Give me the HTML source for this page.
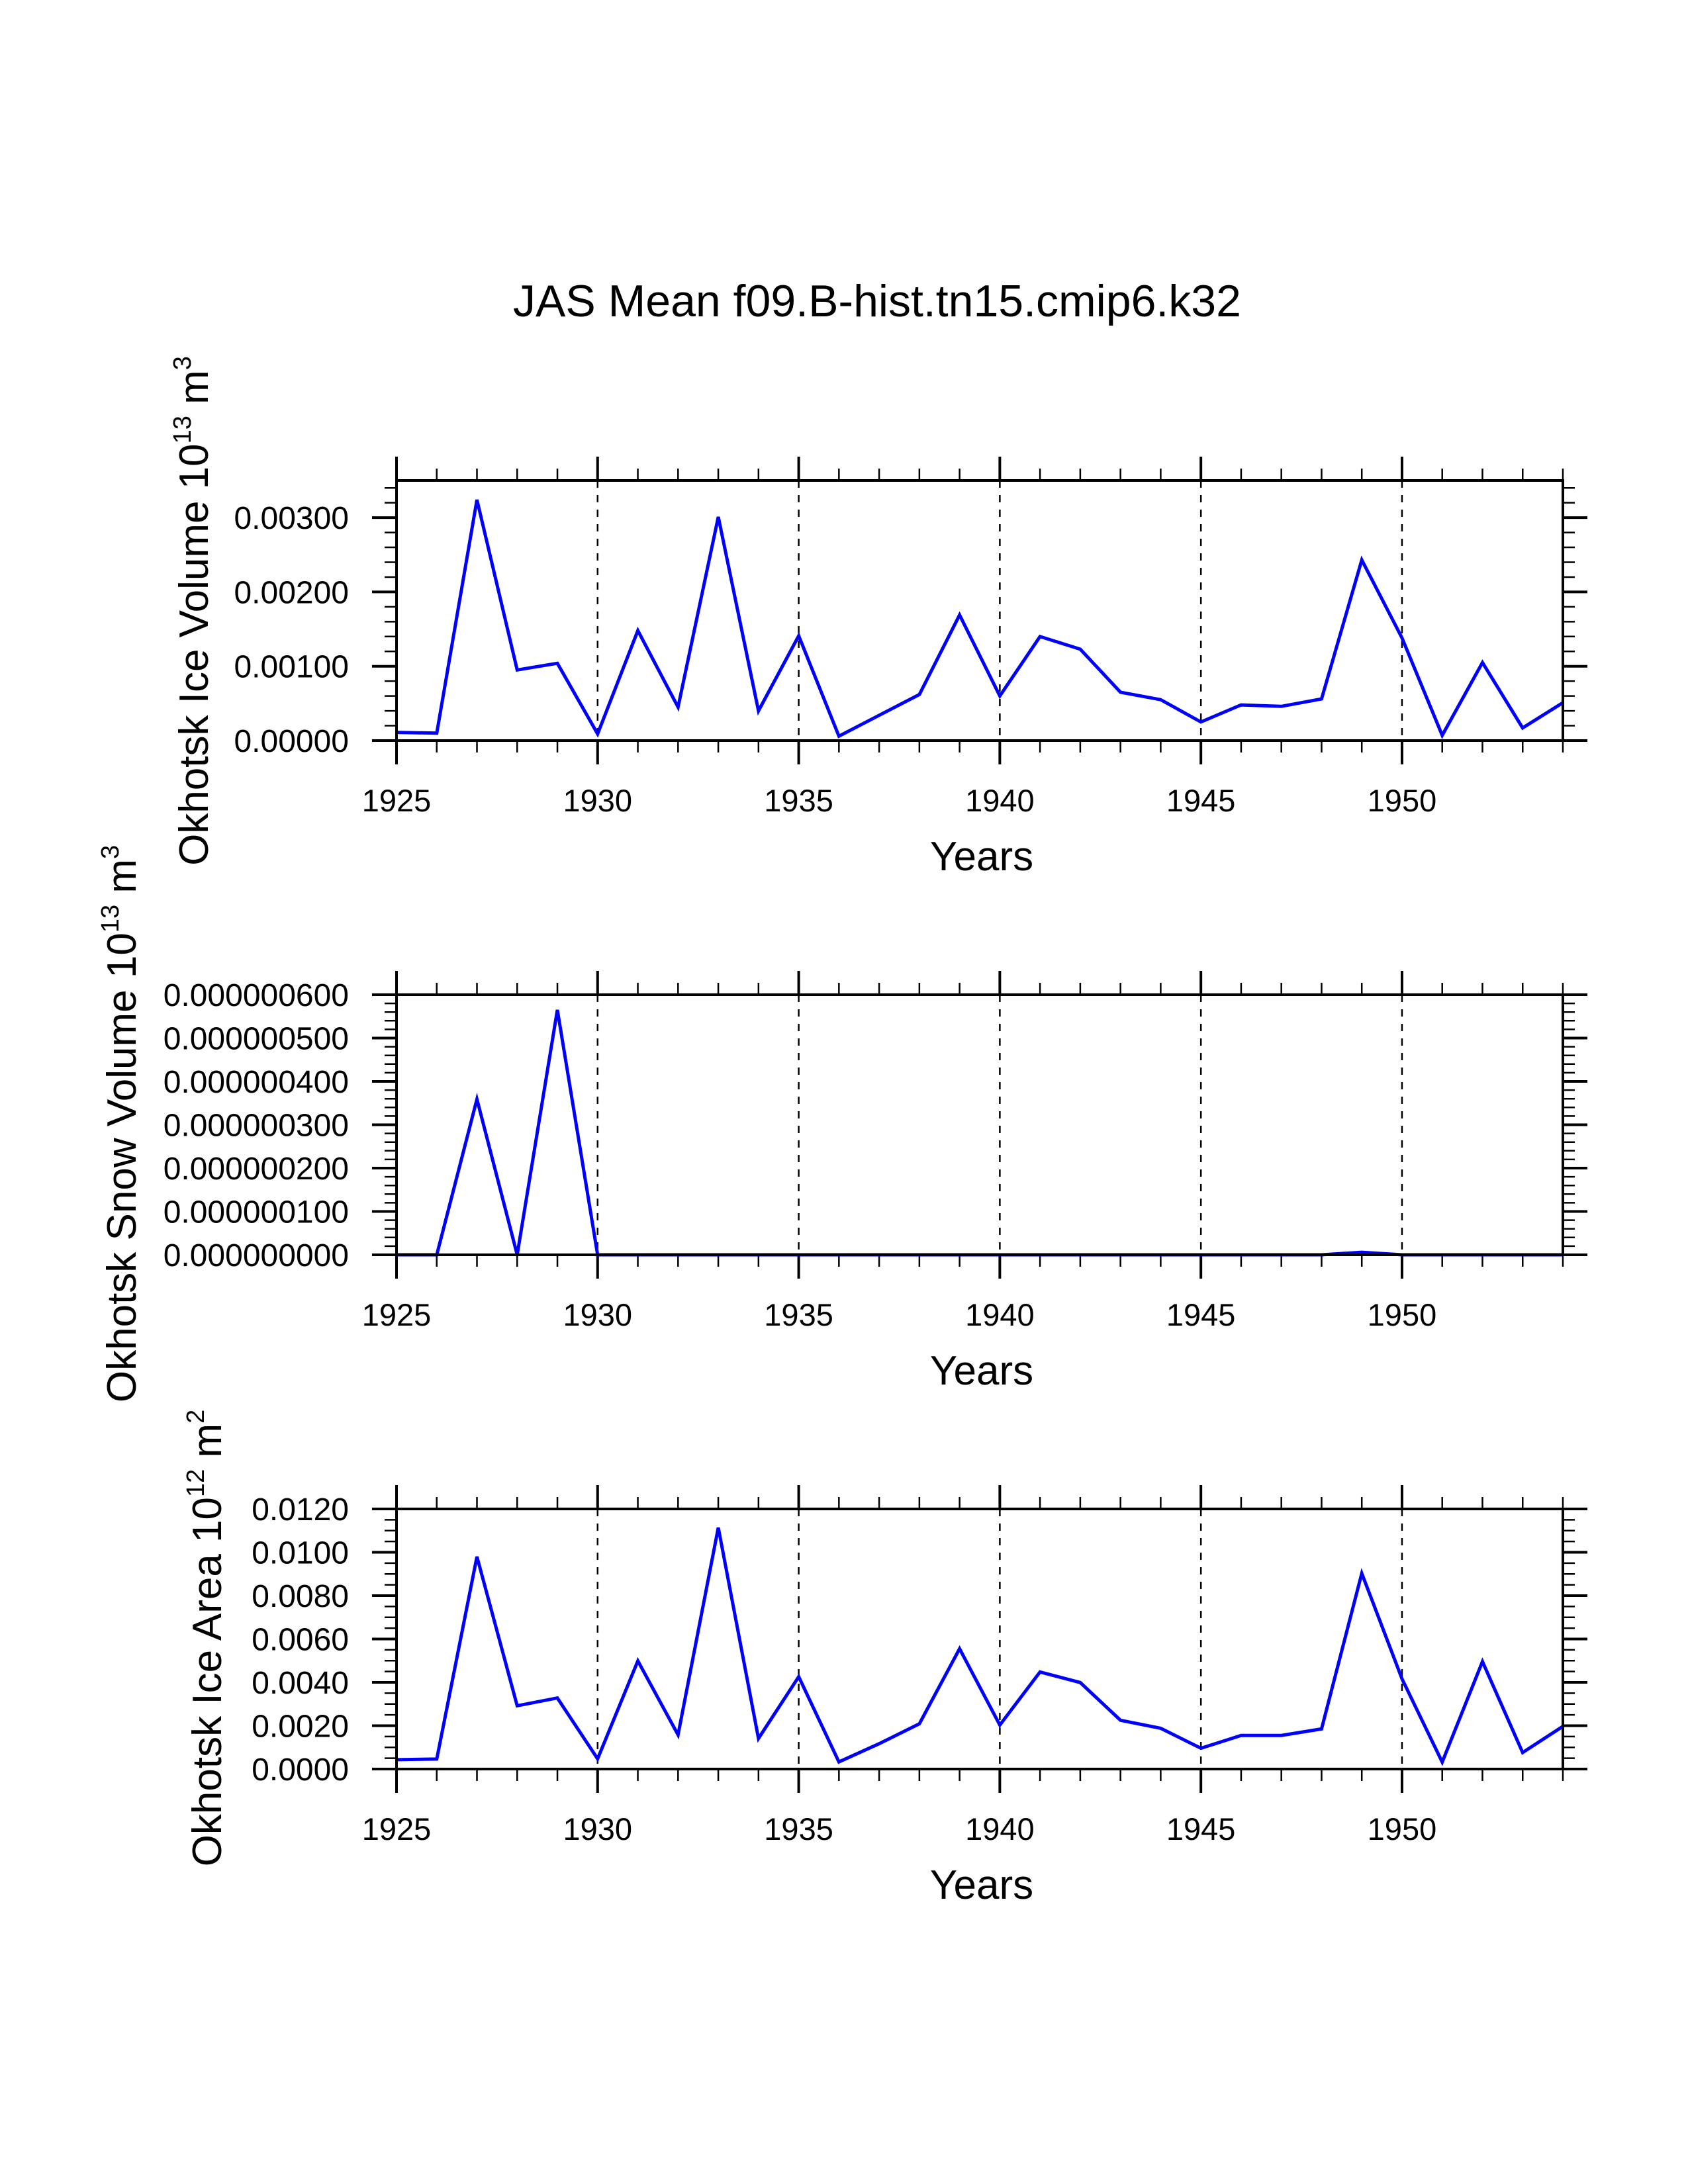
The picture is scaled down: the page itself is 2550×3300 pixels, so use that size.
<!DOCTYPE html>
<html><head><meta charset="utf-8"><style>html,body{margin:0;padding:0;background:#fff}svg{display:block}</style></head>
<body>
<svg id="chart" width="2550" height="3300" viewBox="0 0 2550 3300" xmlns="http://www.w3.org/2000/svg" font-family="'Liberation Sans', sans-serif">
<text x="1325" y="478" font-size="68" text-anchor="middle">JAS Mean f09.B-hist.tn15.cmip6.k32</text>
</svg>
<script>
const years = [1925,1926,1927,1928,1929,1930,1931,1932,1933,1934,1935,1936,1937,1938,1939,1940,1941,1942,1943,1944,1945,1946,1947,1948,1949,1950,1951,1952,1953,1954];
const iceVolume = [0.00011,0.00010,0.00324,0.00095,0.00104,0.00009,0.00148,0.00045,0.00301,0.00040,0.00141,0.00006,0.00034,0.00062,0.00169,0.00060,0.00140,0.00123,0.00065,0.00055,0.00025,0.00048,0.00046,0.00056,0.00243,0.00138,0.00007,0.00105,0.00017,0.00051];
const snowVolume = [0,0,3.59e-7,0,5.65e-7,0,0,0,0,0,0,0,0,0,0,0,0,0,0,0,0,0,0,0,0.06e-7,0,0,0,0,0];
const iceArea = [0.00043,0.00046,0.0098,0.00292,0.00328,0.00047,0.00499,0.00158,0.01114,0.00141,0.00426,0.00033,0.00117,0.00209,0.00555,0.00203,0.00448,0.00399,0.00225,0.00188,0.00096,0.00155,0.00155,0.00185,0.00903,0.00416,0.00032,0.00496,0.00076,0.00197];
const xTickLabels = ['1925','1930','1935','1940','1945','1950'];
const vol1Ticks = ['0.00000','0.00100','0.00200','0.00300'];
const snowTicks = ['0.000000000','0.000000100','0.000000200','0.000000300','0.000000400','0.000000500','0.000000600'];
const areaTicks = ['0.0000','0.0020','0.0040','0.0060','0.0080','0.0100','0.0120'];

const NS='http://www.w3.org/2000/svg';
const svg=document.getElementById('chart');
function mk(tag,attrs,parent){const e=document.createElementNS(NS,tag);for(const k in attrs)e.setAttribute(k,attrs[k]);(parent||svg).appendChild(e);return e;}
const X0=599,X1=2361,XMIN=1925,XMAX=1954;
function xs(v){return X0+(v-XMIN)/(XMAX-XMIN)*(X1-X0);}

function panel(cfg){
  const g=mk('g',{});
  
  
  const top=cfg.top,bot=cfg.top+393;
  const ys=v=>bot-(v-cfg.ymin)/(cfg.ymax-cfg.ymin)*(bot-top);
  for(let y=1930;y<=1950;y+=5){
    const l=mk('line',{x1:xs(y),x2:xs(y),y1:top,y2:bot,stroke:'#000','stroke-width':2.5,'stroke-dasharray':'11 11'},g);
    
    
  }
  for(let y=XMIN;y<=XMAX;y++){
    const major=(y%5===0);const len=major?36:18;const w=major?4:2.5;
    mk('line',{x1:xs(y),x2:xs(y),y1:top-len,y2:top,stroke:'#000','stroke-width':w},g);
    mk('line',{x1:xs(y),x2:xs(y),y1:bot,y2:bot+len,stroke:'#000','stroke-width':w},g);
  }
  const nMinor=cfg.nMinor;
  for(let i=0;i<cfg.ylabels.length;i++){
    const v=cfg.ymin+i*cfg.ystep;
    for(let j=0;j<nMinor;j++){
      const vv=v+j*cfg.ystep/nMinor;
      if(vv>cfg.ymax+1e-15)break;
      const len=j===0?37:18,w=j===0?4:2.5;
      mk('line',{x1:X0-len,x2:X0,y1:ys(vv),y2:ys(vv),stroke:'#000','stroke-width':w},g);
      mk('line',{x1:X1,x2:X1+len,y1:ys(vv),y2:ys(vv),stroke:'#000','stroke-width':w},g);
    }
    const t=mk('text',{x:527,y:ys(v)+17,'font-size':48,'text-anchor':'end'},g);
    t.textContent=cfg.ylabels[i];
    
    
  }
  const pts=years.map((y,i)=>xs(y).toFixed(1)+','+ys(cfg.data[i]).toFixed(1)).join(' ');
  const pl=mk('polyline',{points:pts,fill:'none',stroke:'#0000ff','stroke-width':5,'stroke-linejoin':'miter'},g);
  
  
  const fr=mk('rect',{x:X0,y:top,width:X1-X0,height:bot-top,fill:'none',stroke:'#000','stroke-width':4},g);
  
  
  xTickLabels.forEach(s=>{
    const t=mk('text',{x:xs(+s),y:cfg.top+500,'font-size':47,'text-anchor':'middle'},g);
    t.textContent=s;
    
    
  });
  const xt=mk('text',{x:1483,y:cfg.top+589,'font-size':62,'text-anchor':'middle'},g);
  xt.textContent='Years';
  
  
  const yt=mk('text',{x:0,y:0,'font-size':62,'text-anchor':'middle',transform:'translate('+(cfg.ytx+22)+','+cfg.yty+') rotate(-90)'},g);
  
  
  const a=mk('tspan',{},yt);a.textContent=cfg.ytitle+' 10';
  const b=mk('tspan',{'font-size':38,dy:-26},yt);b.textContent=cfg.exp;
  const c=mk('tspan',{dy:26},yt);c.textContent=' m';
  const d=mk('tspan',{'font-size':38,dy:-26},yt);d.textContent=cfg.unitExp;
}
panel({name:'ice-volume-panel',top:726,ymin:0,ymax:0.0035,ystep:0.001,nMinor:5,ylabels:vol1Ticks,data:iceVolume,ytitle:'Okhotsk Ice Volume',exp:'13',unitExp:'3',ytx:292,yty:923});
panel({name:'snow-volume-panel',top:1503,ymin:0,ymax:6e-7,ystep:1e-7,nMinor:5,ylabels:snowTicks,data:snowVolume,ytitle:'Okhotsk Snow Volume',exp:'13',unitExp:'3',ytx:183,yty:1698});
panel({name:'ice-area-panel',top:2280,ymin:0,ymax:0.012,ystep:0.002,nMinor:4,ylabels:areaTicks,data:iceArea,ytitle:'Okhotsk Ice Area',exp:'12',unitExp:'2',ytx:312,yty:2475});
</script>
</body></html>
